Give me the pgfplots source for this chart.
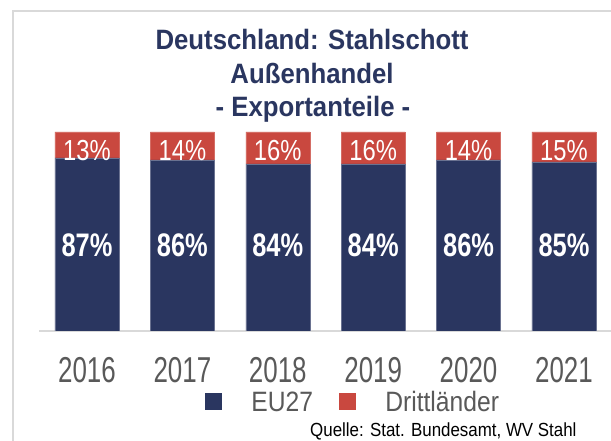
\documentclass[border=0pt]{standalone}
\usepackage{fontspec}
\setmainfont{Liberation Sans}
\usepackage{pgfplots}
\usepackage{pgfplotstable}
\pgfplotsset{compat=1.18}
\newfontfamily\fTitle[FakeStretch=0.92]{Liberation Sans}
\newfontfamily\fTick[FakeStretch=0.72]{Liberation Sans}
\newfontfamily\fLeg[FakeStretch=0.88]{Liberation Sans}
\newfontfamily\fBold[FakeStretch=0.78]{Liberation Sans}
\newfontfamily\fRed[FakeStretch=0.82]{Liberation Sans}
\newfontfamily\fSrc[FakeStretch=0.89]{Liberation Sans}
\definecolor{barnavy}{HTML}{2A3660}
\definecolor{barred}{HTML}{C9483F}
\definecolor{lgray}{HTML}{D9D9D9}
\definecolor{tgray}{HTML}{595959}
\pgfplotsset{sqlegend/.style={/pgfplots/legend image code/.code={\path[##1,draw=none] (0pt,-8.5pt) rectangle (17pt,8.5pt); \path (46pt,0pt);}}}

\pgfplotstableread{
x eu dl euy dly
0 87 13 43 90.5
1 86 14 43 90.5
2 84 16 43 90.5
3 84 16 43 90.5
4 86 14 43 90.5
5 85 15 43 90.5
}\datatab

\begin{document}
\begin{tikzpicture}[x=1pt,y=1pt]
\path[use as bounding box] (0,0) rectangle (611,441);
\fill[white] (0,0) rectangle (611,441);
\draw[lgray, line width=2pt] (12.5,-2) -- (12.5,430) -- (615,430);
\node[anchor=base, inner sep=0pt, text=barnavy, font=\fTitle\bfseries\fontsize{28}{30}\selectfont] at (312,391.7) {Deutschland: Stahlschott};
\node[anchor=base, inner sep=0pt, text=barnavy, font=\fTitle\bfseries\fontsize{28}{30}\selectfont] at (312,357.7) {Außenhandel};
\node[anchor=base, inner sep=0pt, text=barnavy, font=\fTitle\bfseries\fontsize{28}{30}\selectfont] at (313,324.3) {- Exportanteile -};
\begin{axis}[
  at={(39pt,110pt)}, anchor=south west,
  scale only axis, width=572pt, height=199pt,
  ybar stacked, bar width=0.671,
  xmin=-0.503, xmax=5.493, ymin=0, ymax=100,
  axis x line*=bottom, axis y line=none,
  x axis line style={lgray, line width=1.5pt, -},
  xtick={0,1,2,3,4,5},
  xticklabels={2016,2017,2018,2019,2020,2021},
  major tick length=0pt, ytick=\empty,
  xticklabel style={font=\fTick\fontsize{36}{38}\selectfont, text=tgray, anchor=center, yshift=-39pt, inner sep=0pt},
  legend columns=-1,
  legend style={at={(rel axis cs:0.2902,-0.3568)}, anchor=west, draw=none, fill=none, inner sep=0pt,
    font=\fLeg\fontsize{28}{30}\selectfont, text=tgray,
    nodes={inner sep=0pt, anchor=west},
    /tikz/every even column/.append style={column sep=26pt}},
]
\addplot[fill=barnavy, draw=barnavy!70!white, line width=0.5pt, sqlegend] table[x=x, y=eu] {\datatab};
\addlegendentry{EU27}
\addplot[fill=barred, draw=barred!80!white, line width=0.5pt, sqlegend] table[x=x, y=dl] {\datatab};
\addlegendentry{Drittländer}
\end{axis}
\begin{axis}[
  at={(39pt,110pt)}, anchor=south west,
  scale only axis, width=572pt, height=199pt,
  xmin=-0.503, xmax=5.493, ymin=0, ymax=100,
  hide axis, clip=false,
]
\addplot[draw=none, mark=none, nodes near coords={\pgfplotspointmeta\%}, point meta=explicit symbolic,
  every node near coord/.append style={anchor=center, inner sep=0pt, text=white, font=\fBold\bfseries\fontsize{32.6}{34}\selectfont}]
  table[x=x, y=euy, meta=eu] {\datatab};
\addplot[draw=none, mark=none, nodes near coords={\pgfplotspointmeta\%}, point meta=explicit symbolic,
  every node near coord/.append style={anchor=center, inner sep=0pt, text=white, font=\fRed\fontsize{29}{31}\selectfont}]
  table[x=x, y=dly, meta=dl] {\datatab};
\end{axis}
\node[anchor=base west, inner sep=0pt, text=black, font=\fSrc\fontsize{19}{21}\selectfont] at (310,4.5) {Quelle: Stat. Bundesamt, WV Stahl};
\end{tikzpicture}
\end{document}
